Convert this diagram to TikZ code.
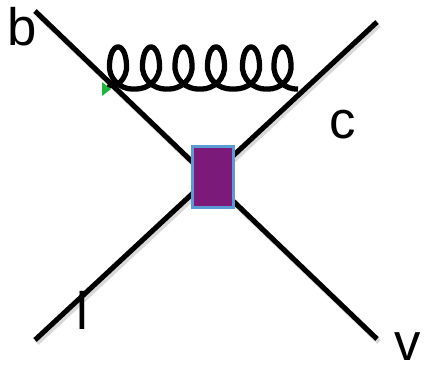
\documentclass[tikz,border=0pt]{standalone}
\usepackage{fontspec}
\setmainfont{Liberation Sans}
\definecolor{boxfill}{HTML}{7B1A78}
\definecolor{boxedge}{HTML}{5B9BD5}
\definecolor{tipgreen}{HTML}{1FB53A}
\tikzset{
  fermion/.style={line width=2.9pt,black},
  lineshadow/.style={line width=2.9pt,black!25,opacity=.6},
  gluon/.style={line width=3pt,black,line join=round},
  vertexbox/.style={draw=boxedge,line width=1.3pt,fill=boxfill,minimum width=0.82cm,minimum height=1.22cm,inner sep=0pt,outer sep=0pt},
  lab/.style={font=\fontsize{30}{30}\selectfont,inner sep=0pt,text=black}
}
% one gluon loop: centre #1, ending in the trough at x = #2
\newcommand{\gloop}[2]{%
  .. controls (#1-3,90) and (#1+10,79) .. (#1+8.5,64)
  .. controls (#1+7,41) and (#1-7,41) .. (#1-8.5,64)
  .. controls (#1-10,79) and (#1+3,90) .. (#2,89)}
\begin{document}
\begin{tikzpicture}[x=0.02cm,y=-0.02cm]
\useasboundingbox (0,0) rectangle (425,365);
\coordinate (bEnd) at (35,11);
\coordinate (vEnd) at (377,339);
\coordinate (cEnd) at (377,22);
\coordinate (lEnd) at (35,340);
\coordinate (gStart) at (108,84);
\draw[lineshadow] (37,14) -- (379,342);
\draw[lineshadow] (379,25) -- (37,343);
\fill[tipgreen] (102,82) -- (111,89) -- (102,96) -- cycle;
\draw[fermion] (bEnd) -- (vEnd);
\draw[fermion] (cEnd) -- (lEnd);
\node[vertexbox] (box) at (213,177) {};
\draw[gluon] (gStart) \gloop{118}{134} \gloop{151}{167} \gloop{183.5}{200} \gloop{216}{233} \gloop{251}{267} \gloop{282.5}{298};
\node[lab,anchor=base west] (b) at (7,45) {b};
\node[lab,anchor=base west] (c) at (329,138) {c};
\node[lab,anchor=base west] (l) at (76,329) {l};
\node[lab,anchor=base west] (v) at (394,360) {v};
\end{tikzpicture}
\end{document}
